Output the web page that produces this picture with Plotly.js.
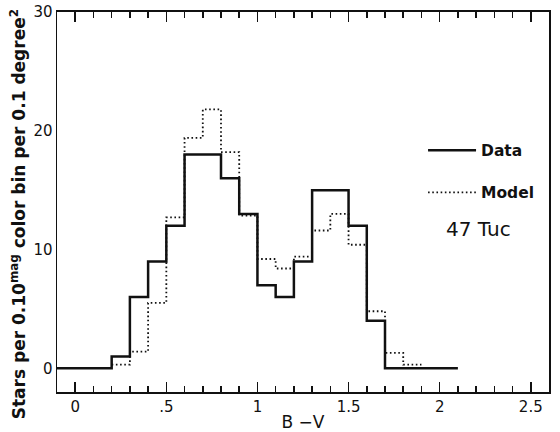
<!DOCTYPE html>
<html>
<head>
<meta charset="utf-8">
<script src="https://cdn.plot.ly/plotly-3.0.1.min.js"></script>
<style>html,body{margin:0;padding:0;background:#fff;}#chart{width:560px;height:432px;}</style>
</head>
<body>
<div id="chart"></div>
<script>
// Bin left edges (B-V), last entry is the closing edge
const dataEdges = [-0.1, 0.0, 0.1, 0.2, 0.3, 0.4, 0.5, 0.6, 0.7, 0.8, 0.9, 1.0, 1.1, 1.2, 1.3, 1.4, 1.5, 1.6, 1.7, 1.8, 1.9, 2.0, 2.1];
const dataCounts = [0, 0, 0, 1, 6, 9, 12, 18, 18, 16, 13, 7, 6, 9, 15, 15, 12, 4, 0, 0, 0, 0];
const modelEdges = [0.2, 0.3, 0.4, 0.5, 0.6, 0.7, 0.8, 0.9, 1.0, 1.1, 1.2, 1.3, 1.4, 1.5, 1.6, 1.7, 1.8, 1.9];
const modelCounts = [0.3, 1.4, 5.5, 12.7, 19.4, 21.8, 18.2, 12.85, 9.2, 8.4, 9.4, 11.6, 13.0, 10.4, 4.8, 1.3, 0.3];
const xTickVals = [0, 0.5, 1, 1.5, 2, 2.5];
const xTickText = ['0', '.5', '1', '1.5', '2', '2.5'];
const yTickVals = [0, 10, 20, 30];
const yTickText = ['0', '10', '20', '30'];

function stepY(counts) { return counts.concat([counts[counts.length - 1]]); }

const font = 'DejaVu Sans, Liberation Sans, sans-serif';
const xRange = [-0.1, 2.6];

const traces = [
  {
    x: dataEdges, y: stepY(dataCounts), type: 'scatter', mode: 'lines',
    line: {shape: 'hv', color: '#111', width: 2.5},
    name: '<b>Data</b>', legendgroup: 'a'
  },
  {
    x: modelEdges, y: stepY(modelCounts), type: 'scatter', mode: 'lines',
    xaxis: 'x2',
    line: {shape: 'hv', color: '#111', width: 1.8, dash: '1.6px,2.6px'},
    name: '<b>Model</b>', legendgroup: 'b'
  }
];

const layout = {
  width: 560, height: 432,
  margin: {l: 57, r: 11, t: 12, b: 40},
  paper_bgcolor: '#fff', plot_bgcolor: '#fff',
  font: {family: font, color: '#111', size: 15},
  showlegend: true,
  legend: {
    x: 0.744, y: 0.68, xanchor: 'left', yanchor: 'top',
    bgcolor: 'rgba(0,0,0,0)', font: {size: 15.5, family: font},
    tracegroupgap: 19, itemwidth: 48
  },
  xaxis: {
    range: xRange,
    tickmode: 'array', tickvals: xTickVals, ticktext: xTickText,
    ticks: 'inside', ticklen: 10, tickwidth: 1.6, tickcolor: '#111',
    showline: true, linecolor: '#111', linewidth: 1.8, mirror: 'allticks',
    showgrid: false, zeroline: false,
    tickfont: {size: 15, family: font},
    title: {text: 'B −V', font: {size: 17, family: font}, standoff: 2}
  },
  xaxis2: {
    range: xRange, overlaying: 'x', side: 'bottom', anchor: 'y',
    tickmode: 'linear', tick0: 0, dtick: 0.1,
    ticks: 'inside', ticklen: 6, tickwidth: 1.5, tickcolor: '#111',
    showticklabels: false, mirror: 'allticks',
    showgrid: false, zeroline: false
  },
  yaxis: {
    range: [-2, 30],
    tickvals: yTickVals, ticktext: yTickText,
    showline: true, linecolor: '#111', linewidth: 1.5, mirror: true,
    showgrid: false, zeroline: false,
    tickfont: {size: 15, family: font}
  },
  annotations: [
    {xref: 'paper', yref: 'paper', x: 0.857, y: 0.43, text: '47 Tuc', showarrow: false,
     font: {size: 20, family: font}, xanchor: 'center', yanchor: 'middle'},
    {xref: 'paper', yref: 'paper', x: -0.079, y: 0.468, textangle: -90, showarrow: false,
     text: '<b>Stars per 0.10<sup>mag</sup> color bin per 0.1 degree<sup>2</sup></b>',
     font: {size: 17, family: font}, xanchor: 'center', yanchor: 'middle'}
  ]
};

Plotly.newPlot('chart', traces, layout, {displayModeBar: false, staticPlot: true});
</script>
</body>
</html>
